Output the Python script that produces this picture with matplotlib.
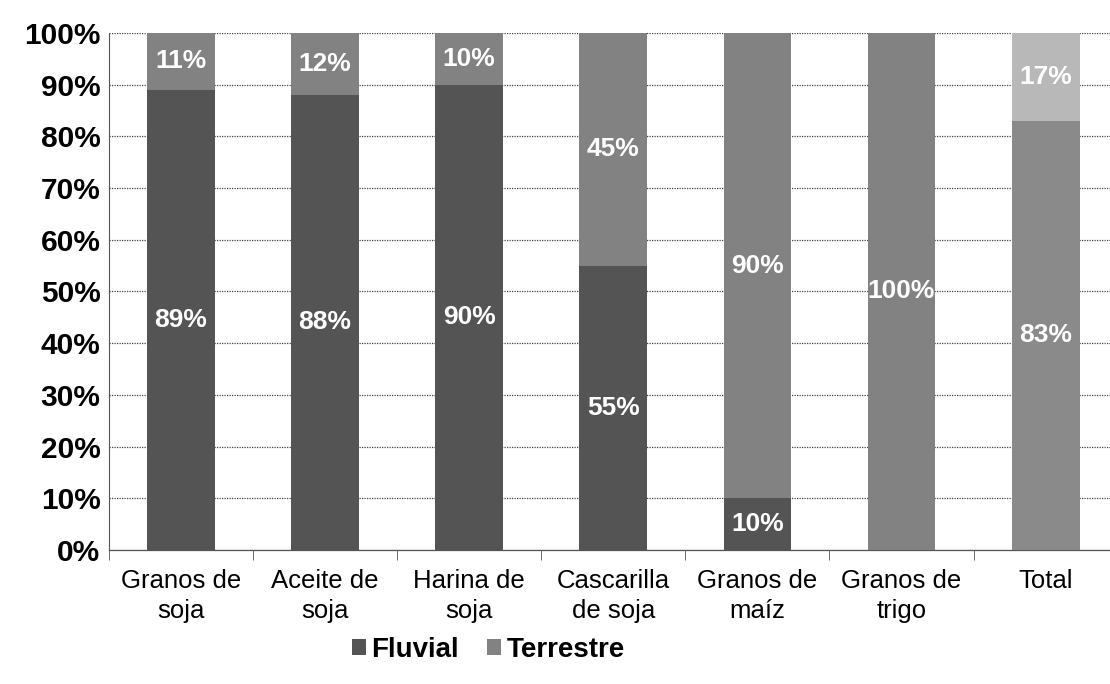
import matplotlib.pyplot as plt
import numpy as np

plt.rcParams['font.family'] = ['Liberation Sans', 'DejaVu Sans']

categorias = ['Granos de\nsoja', 'Aceite de\nsoja', 'Harina de\nsoja', 'Cascarilla\nde soja',
              'Granos de\nmaíz', 'Granos de\ntrigo', 'Total']
fluvial = [89, 88, 90, 55, 10, 0, 83]
terrestre = [11, 12, 10, 45, 90, 100, 17]

# colores por barra (el total sale mas claro en el original)
col_fluvial = ['#545454'] * 6 + ['#8a8a8a']
col_terrestre = ['#828282'] * 6 + ['#b8b8b8']

fig = plt.figure(figsize=(11.1, 6.84), dpi=100)
ax = fig.add_axes([0.098, 0.196, 0.909, 0.756])

x = np.arange(len(categorias))
ancho = 0.47
b1 = ax.bar(x, fluvial, ancho, color=col_fluvial, label='Fluvial', zorder=3)
b2 = ax.bar(x, terrestre, ancho, bottom=fluvial, color=col_terrestre, label='Terrestre', zorder=3)

for barras, vals, base in [(b1, fluvial, [0] * 7), (b2, terrestre, fluvial)]:
    for rect, v, b in zip(barras, vals, base):
        if v == 0:
            continue
        ax.text(rect.get_x() + rect.get_width() / 2, b + v / 2, f'{v}%',
                ha='center', va='center', color='white', fontsize=19, fontweight='bold', zorder=4)

ax.set_xlim(-0.5, len(categorias) - 0.5)
ax.set_ylim(0, 100)
ax.set_yticks(np.arange(0, 101, 10))
ax.set_yticklabels([f'{t}%' for t in range(0, 101, 10)], fontsize=21.5, fontweight='bold')
ax.yaxis.grid(True, linestyle=(0, (1, 1)), color='#444444', linewidth=0.9, zorder=0)
ax.tick_params(axis='y', length=0, pad=6)

ax.set_xticks(x)
ax.set_xticklabels(categorias, fontsize=18.5, linespacing=1.3)
ax.set_xticks(np.arange(-0.5, len(categorias)), minor=True)
ax.tick_params(axis='x', which='major', length=0, pad=14)
ax.tick_params(axis='x', which='minor', length=7, direction='out', color='#555555')

for s in ['top', 'right']:
    ax.spines[s].set_visible(False)
ax.spines['left'].set_linestyle((0, (1, 1)))
ax.spines['left'].set_color('#555555')
ax.spines['bottom'].set_color('#555555')
ax.spines['bottom'].set_linewidth(0.9)

fig.legend(handles=[b1, b2], labels=['Fluvial', 'Terrestre'], loc='center',
           bbox_to_anchor=(0.44, 0.05), ncol=2, frameon=False,
           prop={'size': 20, 'weight': 'bold'}, handlelength=0.5, handleheight=0.5,
           handletextpad=0.2, columnspacing=1.0)

fig.savefig('out.png', dpi=100)
